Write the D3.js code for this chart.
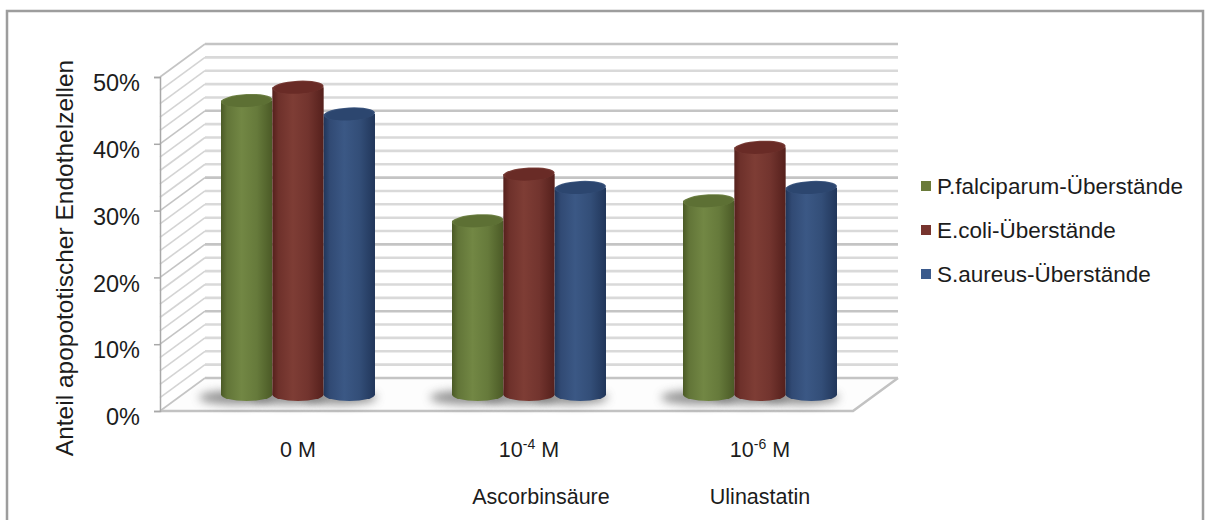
<!DOCTYPE html>
<html>
<head>
<meta charset="utf-8">
<script src="https://cdn.jsdelivr.net/npm/d3@7"></script>
<style>
  body { margin: 0; background: #fff; }
  svg { display: block; }
  text { font-family: "Liberation Sans", Arial, Helvetica, sans-serif; fill: #1c1c1c; }
</style>
</head>
<body>
<svg id="chart" width="1207" height="520"></svg>
<script>
// Apoptotic endothelial cells after treatment with culture supernatants
const categories = ["0 M", "10^-4 M", "10^-6 M"];
const substances = ["", "Ascorbinsäure", "Ulinastatin"];
const series = ["P.falciparum-Überstände", "E.coli-Überstände", "S.aureus-Überstände"];
const falciparum = [44, 26, 29];
const ecoli = [46, 33, 37];
const aureus = [42, 31, 31];
const yTicks = [0, 10, 20, 30, 40, 50];
const gridStep = 2;

const seriesValues = [falciparum, ecoli, aureus];
const palette = [
  { edge: "#4b5a26", mid: "#728744", top: "#5d7034", key: "#6a7b3a" },
  { edge: "#55201c", mid: "#7e3d35", top: "#692b26", key: "#77342e" },
  { edge: "#21365a", mid: "#3b5885", top: "#2c466f", key: "#3a5a8c" }
];

const svg = d3.select("#chart");
const defs = svg.append("defs");

// Oblique depth of the 3D box
const DX = 45, DY = -33;
const x0 = 160, x1 = 853;

const y = d3.scaleLinear().domain([0, 50]).range([411, 77]);
const x = d3.scaleBand().domain(categories).range([x0, x1]).paddingInner(1 / 3).paddingOuter(1 / 6);
const xs = d3.scaleBand().domain(series).range([0, x.bandwidth()]);

// Outer frame
svg.append("rect")
  .attr("x", 7).attr("y", 11).attr("width", 1196).attr("height", 530)
  .attr("fill", "none").attr("stroke", "#9d9d9d").attr("stroke-width", 2.5);

// Floor
const floor = svg.append("g");
floor.append("path")
  .attr("d", `M${x0},${y(0)} L${x1},${y(0)} L${x1 + DX},${y(0) + DY} L${x0 + DX},${y(0) + DY} Z`)
  .attr("fill", "#fdfdfd").attr("stroke", "none");

// Back wall and side wall grid lines
const gridVals = d3.range(0, 50 + 0.001, gridStep);
const grid = svg.append("g");
grid.selectAll("line.back").data(gridVals).join("line")
  .attr("class", "back")
  .attr("x1", x0 + DX).attr("x2", x1 + DX)
  .attr("y1", d => y(d) + DY).attr("y2", d => y(d) + DY)
  .attr("stroke", d => d % 10 === 0 ? "#c4c4c4" : "#d9d9d9")
  .attr("stroke-width", 2.6);
grid.selectAll("line.side").data(gridVals).join("line")
  .attr("class", "side")
  .attr("x1", x0).attr("y1", d => y(d))
  .attr("x2", x0 + DX).attr("y2", d => y(d) + DY)
  .attr("stroke", d => d % 10 === 0 ? "#c4c4c4" : "#d4d4d4")
  .attr("stroke-width", 1.6);

// Floor edges
floor.append("path")
  .attr("d", `M${x0},${y(0)} L${x1},${y(0)} L${x1 + DX},${y(0) + DY}`)
  .attr("fill", "none").attr("stroke", "#c2c2c2").attr("stroke-width", 2.5);

// Value axis
const yAxis = svg.append("g")
  .attr("transform", `translate(${x0},0)`)
  .call(d3.axisLeft(y).tickValues(yTicks).tickFormat(d => d + "%").tickSize(6).tickPadding(14));
yAxis.select(".domain").attr("stroke", "#a8a8a8").attr("stroke-width", 1.5);
yAxis.selectAll(".tick line").attr("stroke", "#a8a8a8").attr("stroke-width", 1.5);
yAxis.selectAll(".tick text")
  .attr("font-size", 23.5).attr("dy", "0.58em")
  .style("font-family", "'Liberation Sans', Arial, sans-serif").attr("fill", "#1c1c1c");

svg.append("text")
  .attr("transform", "translate(73,258) rotate(-90)")
  .attr("text-anchor", "middle")
  .attr("font-size", 24.5)
  .text("Anteil apopototischer Endothelzellen");

// Gradients for the cylinders
palette.forEach((c, i) => {
  const g = defs.append("linearGradient").attr("id", "body" + i)
    .attr("x1", "0%").attr("x2", "100%").attr("y1", "0%").attr("y2", "0%");
  g.append("stop").attr("offset", "0%").attr("stop-color", c.edge);
  g.append("stop").attr("offset", "12%").attr("stop-color", d3.interpolateRgb(c.edge, c.mid)(0.6));
  g.append("stop").attr("offset", "40%").attr("stop-color", c.mid);
  g.append("stop").attr("offset", "70%").attr("stop-color", d3.interpolateRgb(c.mid, c.edge)(0.3));
  g.append("stop").attr("offset", "100%").attr("stop-color", c.edge);
  const t = defs.append("radialGradient").attr("id", "top" + i)
    .attr("cx", "50%").attr("cy", "55%").attr("r", "60%");
  t.append("stop").attr("offset", "0%").attr("stop-color", c.top);
  t.append("stop").attr("offset", "75%").attr("stop-color", c.top);
  t.append("stop").attr("offset", "100%").attr("stop-color", d3.interpolateRgb(c.mid, "#ffffff")(0.15));
});
defs.append("filter").attr("id", "soft").attr("x", "-50%").attr("y", "-200%").attr("width", "200%").attr("height", "500%")
  .append("feGaussianBlur").attr("stdDeviation", 5);

const rows = [];
categories.forEach((cat, ci) => {
  series.forEach((s, si) => {
    rows.push({ cat, s, si, v: seriesValues[si][ci] });
  });
});

const base = y(0) + DY / 2;
const ry = 6.5;

// Floor shadows
svg.append("g").selectAll("ellipse").data(rows).join("ellipse")
  .attr("cx", d => x(d.cat) + DX / 2 + xs(d.s) + xs.bandwidth() / 2 - 10)
  .attr("cy", base + 3)
  .attr("rx", xs.bandwidth() / 2 + 12)
  .attr("ry", 7)
  .attr("fill", "#6e6e6e")
  .attr("opacity", 0.75)
  .attr("filter", "url(#soft)");

// Cylinders
const bars = svg.append("g").selectAll("g").data(rows).join("g")
  .attr("transform", d => `translate(${x(d.cat) + DX / 2 + xs(d.s)},0)`);
const w = xs.bandwidth();
bars.append("path")
  .attr("d", d => {
    const top = y(d.v) + DY / 2;
    return `M0,${top} L0,${base} A${w / 2},${ry} 0 0 0 ${w},${base} L${w},${top} Z`;
  })
  .attr("fill", d => `url(#body${d.si})`);
bars.append("ellipse")
  .attr("cx", w / 2)
  .attr("cy", d => y(d.v) + DY / 2)
  .attr("rx", w / 2)
  .attr("ry", ry)
  .attr("transform", d => `rotate(-3,${w / 2},${y(d.v) + DY / 2})`)
  .attr("fill", d => `url(#top${d.si})`);

// Category labels
const labels = svg.append("g");
categories.forEach((cat, ci) => {
  const cx = x(cat) + DX / 2 + x.bandwidth() / 2;
  const m = cat.match(/^(\S+?)(?:\^(\S+))?( M)$/);
  const t = labels.append("text")
    .attr("x", cx).attr("y", 457)
    .attr("text-anchor", "middle").attr("font-size", 21.5);
  t.append("tspan").text(m[1]);
  if (m[2]) {
    t.append("tspan").attr("font-size", 14).attr("dy", -8).text(m[2]);
    t.append("tspan").attr("dy", 8).text(m[3]);
  } else {
    t.append("tspan").text(m[3]);
  }
  if (substances[ci]) {
    labels.append("text")
      .attr("x", cx + (ci === 1 ? 12 : 0)).attr("y", 504)
      .attr("text-anchor", "middle").attr("font-size", 21.5)
      .text(substances[ci]);
  }
});

// Legend
const legend = svg.append("g").attr("transform", "translate(921,186)");
const item = legend.selectAll("g").data(series).join("g")
  .attr("transform", (d, i) => `translate(0,${i * 44})`);
item.append("rect")
  .attr("x", 0).attr("y", -5).attr("width", 10).attr("height", 10)
  .attr("fill", (d, i) => palette[i].key);
item.append("text")
  .attr("x", 16).attr("y", 0).attr("dy", "0.35em")
  .attr("font-size", 22.5)
  .text(d => d);
</script>
</body>
</html>
